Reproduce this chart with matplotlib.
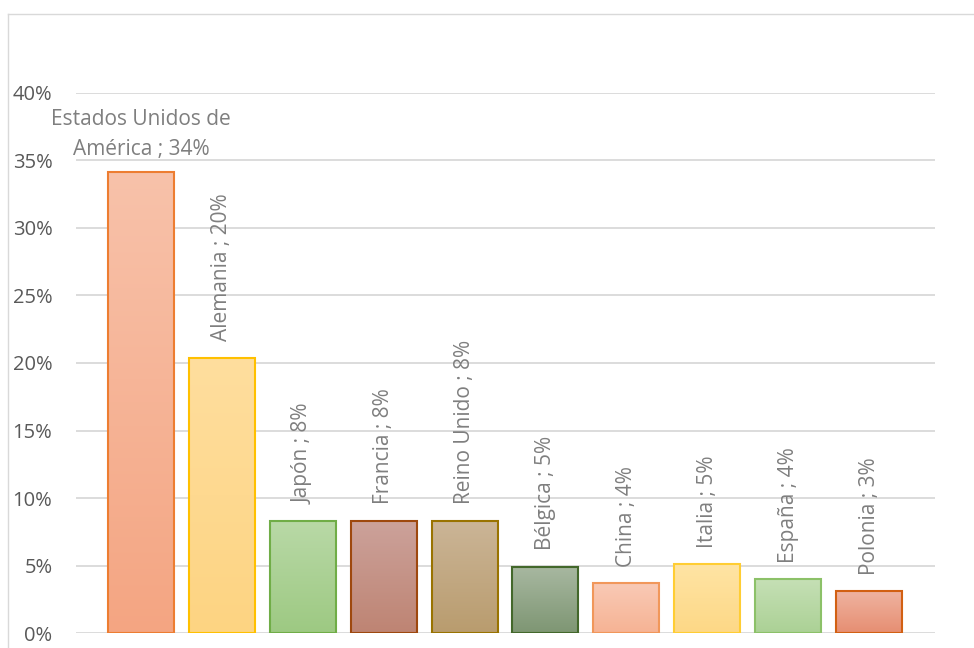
import matplotlib.pyplot as plt
import numpy as np
from matplotlib.colors import LinearSegmentedColormap
from matplotlib.lines import Line2D

plt.rcParams['font.family'] = ['Open Sans', 'DejaVu Sans']

paises = ['Estados Unidos de\nAmérica', 'Alemania', 'Japón', 'Francia', 'Reino Unido',
          'Bélgica', 'China', 'Italia', 'España', 'Polonia']
valores = [34.1, 20.4, 8.3, 8.3, 8.3, 4.9, 3.7, 5.1, 4.0, 3.1]

# top colour, bottom colour, edge colour
col_arriba = ['#F8C2AA', '#FFDE9E', '#B9D9A7', '#CCA29B', '#CBB597',
              '#A8B8A1', '#F9CAB6', '#FFE4A4', '#C6E0B6', '#EFB3A0']
col_abajo = ['#F4A582', '#FDD482', '#9DC982', '#BE8473', '#B99C6E',
             '#7E9673', '#F6B394', '#FDD886', '#ABD195', '#E68E72']
col_borde = ['#ED7D31', '#FFC000', '#70AD47', '#9E480E', '#997300',
             '#43682B', '#F1975A', '#FFCD33', '#8CC168', '#D26012']

fig = plt.figure(figsize=(9.74, 6.48), dpi=100)
ax = fig.add_axes([76 / 974, 1 - 633.3 / 648, (935 - 76) / 974, (633.3 - 92.7) / 648])

x = np.arange(len(paises))
v = np.array(valores) / 100
bars = ax.bar(x, v, width=0.816, color='none', edgecolor=col_borde, linewidth=1.5, zorder=3)

grad = np.linspace(1, 0, 256).reshape(-1, 1)
for b, c1, c2 in zip(bars, col_arriba, col_abajo):
    cmap = LinearSegmentedColormap.from_list('g', [c2, c1])
    x0 = b.get_x()
    im = ax.imshow(grad, cmap=cmap, aspect='auto', zorder=2,
                   extent=[x0, x0 + b.get_width(), 0, b.get_height()])
    im.set_clip_path(b)

ax.set_xlim(-0.803, 9.815)
ax.set_ylim(0, 0.40)
ax.set_yticks(np.arange(0, 0.41, 0.05))
ax.set_yticklabels([f'{int(round(t * 100))}%' for t in np.arange(0, 0.41, 0.05)])
ax.set_xticks([])
ax.grid(axis='y', color='#D9D9D9', linewidth=1.3, zorder=0)
for s in ax.spines.values():
    s.set_visible(False)
ax.tick_params(axis='y', length=0, pad=17, labelsize=14.5, labelcolor='#595959')

for i, (p, val) in enumerate(zip(paises, valores)):
    txt = f'{p} ; {round(val)}%'
    if i == 0:
        ax.annotate(txt, (x[i], v[i]), xytext=(0, 9), textcoords='offset points',
                    ha='center', va='bottom', fontsize=15, color='#7F7F7F',
                    linespacing=1.55, annotation_clip=False)
    else:
        ax.annotate(txt, (x[i], v[i]), xytext=(0, 12), textcoords='offset points',
                    ha='center', va='bottom', rotation=90, fontsize=15,
                    color='#7F7F7F', annotation_clip=False)

# chart frame
fig.add_artist(Line2D([8 / 974, 8 / 974], [0, 1 - 14 / 648], transform=fig.transFigure,
                      color='#D9D9D9', linewidth=1))
fig.add_artist(Line2D([8 / 974, 1], [1 - 14 / 648, 1 - 14 / 648], transform=fig.transFigure,
                      color='#D9D9D9', linewidth=1))

fig.savefig('out.png', dpi=100)
